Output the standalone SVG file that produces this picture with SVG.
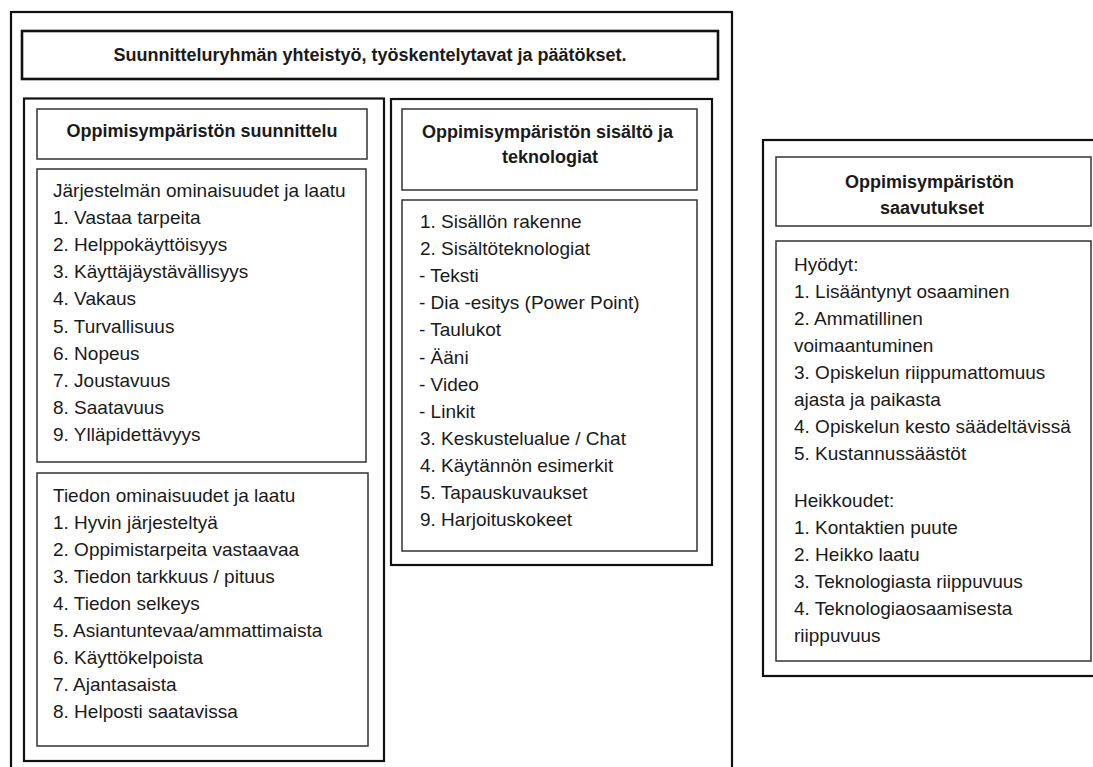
<svg xmlns="http://www.w3.org/2000/svg" width="1093" height="767" viewBox="0 0 1093 767">
  <style>
    .outer { fill: none; stroke: #111; stroke-width: 2.2; }
    .title { fill: none; stroke: #111; stroke-width: 2.6; }
    .inner { fill: none; stroke: #333; stroke-width: 1.5; }
    .hd { font-family: "Liberation Sans", Arial, sans-serif; font-size: 18px; font-weight: bold; fill: #1a1a1a; }
    .tx { font-family: "Liberation Sans", Arial, sans-serif; font-size: 19px; fill: #1a1a1a; }
  </style>
  <rect x="0" y="0" width="1093" height="767" fill="#fff"/>
  <g id="connectors"/>

  <g id="outer-frame">
    <rect class="outer" x="11" y="12" width="721" height="800"/>
  </g>

  <g id="title">
    <rect class="title" x="22" y="31" width="696" height="48"/>
    <text class="hd" x="370" y="61" text-anchor="middle">Suunnitteluryhmän yhteistyö, työskentelytavat ja päätökset.</text>
  </g>

  <g id="suunnittelu">
    <rect class="outer" x="24" y="98.5" width="360" height="662.5"/>
    <g id="suunnittelu-header">
      <rect class="inner" x="37" y="109" width="330" height="50"/>
      <text class="hd" x="202" y="137" text-anchor="middle">Oppimisympäristön suunnittelu</text>
    </g>
    <g id="jarjestelma">
      <rect class="inner" x="37" y="169" width="329" height="293"/>
      <text class="tx">
        <tspan x="53" y="197">Järjestelmän ominaisuudet ja laatu</tspan>
        <tspan x="53" y="224.1">1. Vastaa tarpeita</tspan>
        <tspan x="53" y="251.2">2. Helppokäyttöisyys</tspan>
        <tspan x="53" y="278.3">3. Käyttäjäystävällisyys</tspan>
        <tspan x="53" y="305.4">4. Vakaus</tspan>
        <tspan x="53" y="332.5">5. Turvallisuus</tspan>
        <tspan x="53" y="359.6">6. Nopeus</tspan>
        <tspan x="53" y="386.7">7. Joustavuus</tspan>
        <tspan x="53" y="413.8">8. Saatavuus</tspan>
        <tspan x="53" y="440.9">9. Ylläpidettävyys</tspan>
      </text>
    </g>
    <g id="tieto">
      <rect class="inner" x="37" y="473" width="331" height="273"/>
      <text class="tx">
        <tspan x="53" y="502">Tiedon ominaisuudet ja laatu</tspan>
        <tspan x="53" y="529">1. Hyvin järjesteltyä</tspan>
        <tspan x="53" y="556">2. Oppimistarpeita vastaavaa</tspan>
        <tspan x="53" y="583">3. Tiedon tarkkuus / pituus</tspan>
        <tspan x="53" y="610">4. Tiedon selkeys</tspan>
        <tspan x="53" y="637">5. Asiantuntevaa/ammattimaista</tspan>
        <tspan x="53" y="664">6. Käyttökelpoista</tspan>
        <tspan x="53" y="691">7. Ajantasaista</tspan>
        <tspan x="53" y="718">8. Helposti saatavissa</tspan>
      </text>
    </g>
  </g>

  <g id="sisalto">
    <rect class="outer" x="391" y="99" width="321" height="466"/>
    <g id="sisalto-header">
      <rect class="inner" x="402" y="109" width="295" height="81"/>
      <text class="hd" text-anchor="middle">
        <tspan x="550" y="138">Oppimisympäristön sisältö ja</tspan>
        <tspan x="550" y="163">teknologiat</tspan>
      </text>
    </g>
    <g id="sisalto-list">
      <rect class="inner" x="402" y="200" width="295" height="351"/>
      <text class="tx">
        <tspan x="420" y="228">1. Sisällön rakenne</tspan>
        <tspan x="420" y="255.1">2. Sisältöteknologiat</tspan>
        <tspan x="419" y="282.2">- Teksti</tspan>
        <tspan x="419" y="309.3">- Dia -esitys (Power Point)</tspan>
        <tspan x="419" y="336.4">- Taulukot</tspan>
        <tspan x="419" y="363.5">- Ääni</tspan>
        <tspan x="419" y="390.6">- Video</tspan>
        <tspan x="419" y="417.7">- Linkit</tspan>
        <tspan x="420" y="444.8">3. Keskustelualue / Chat</tspan>
        <tspan x="420" y="471.9">4. Käytännön esimerkit</tspan>
        <tspan x="420" y="499">5. Tapauskuvaukset</tspan>
        <tspan x="420" y="526.1">9. Harjoituskokeet</tspan>
      </text>
    </g>
  </g>

  <g id="saavutukset">
    <rect class="outer" x="763" y="140" width="350" height="536"/>
    <g id="saavutukset-header">
      <rect class="inner" x="776" y="157" width="315" height="69"/>
      <text class="hd" text-anchor="middle">
        <tspan x="932" y="188">Oppimisympäristön</tspan>
        <tspan x="932" y="214">saavutukset</tspan>
      </text>
    </g>
    <g id="saavutukset-list">
      <rect class="inner" x="776" y="241" width="315" height="420"/>
      <text class="tx">
        <tspan x="794" y="271">Hyödyt:</tspan>
        <tspan x="794" y="298">1. Lisääntynyt osaaminen</tspan>
        <tspan x="794" y="325">2. Ammatillinen</tspan>
        <tspan x="794" y="352">voimaantuminen</tspan>
        <tspan x="794" y="379">3. Opiskelun riippumattomuus</tspan>
        <tspan x="794" y="406">ajasta ja paikasta</tspan>
        <tspan x="794" y="433">4. Opiskelun kesto säädeltävissä</tspan>
        <tspan x="794" y="460">5. Kustannussäästöt</tspan>
        <tspan x="794" y="507">Heikkoudet:</tspan>
        <tspan x="794" y="534">1. Kontaktien puute</tspan>
        <tspan x="794" y="561">2. Heikko laatu</tspan>
        <tspan x="794" y="588">3. Teknologiasta riippuvuus</tspan>
        <tspan x="794" y="615">4. Teknologiaosaamisesta</tspan>
        <tspan x="794" y="642">riippuvuus</tspan>
      </text>
    </g>
  </g>
</svg>
